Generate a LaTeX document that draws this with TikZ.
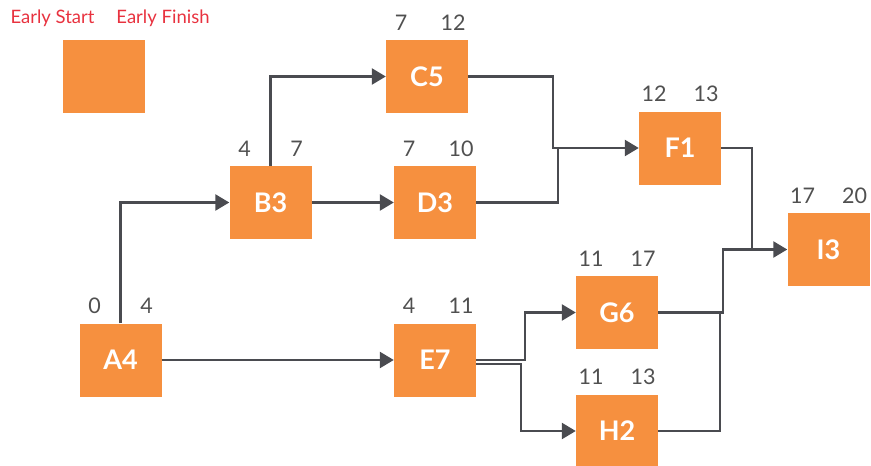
\documentclass[tikz,border=0pt]{standalone}
\usepackage{fontspec}
\setmainfont{Lato}
\usetikzlibrary{arrows.meta,calc}
\definecolor{boxorange}{HTML}{F6903F}
\definecolor{linegray}{HTML}{4A4B50}
\definecolor{numgray}{HTML}{505050}
\definecolor{legendred}{HTML}{E8323F}
\tikzset{
  taskbox/.style={fill=boxorange,draw=none,minimum width=82pt,minimum height=73pt,inner sep=0pt,
    text=white,font=\fontsize{27}{30}\selectfont\bfseries},
  numlabel/.style={text=numgray,inner sep=0pt,font=\fontsize{21.5}{24}\selectfont},
  legendlabel/.style={text=legendred,inner sep=0pt,font=\fontsize{18.5}{21}\selectfont},
  conn/.style={draw=linegray,line width=2.5pt},
  arr/.style={conn,-{Triangle[length=14pt,width=16pt]}}
}
\newcommand\tasknode[6]{%
  \node[taskbox] (#1) at (#2,#3) {#4};
  \node[numlabel] (#1es) at ($(#1.center)+(-26,-54)$) {#5};
  \node[numlabel] (#1ef) at ($(#1.center)+(26,-54)$) {#6};
}
\begin{document}
\begin{tikzpicture}[x=1pt,y=-1pt]
\useasboundingbox (0,0) rectangle (871,466);
% legend
\node[taskbox] (legend) at (104,76.5) {};
\node[legendlabel] (lgs) at (52.5,18) {Early Start};
\node[legendlabel] (lgf) at (163,18) {Early Finish};
% tasks
\tasknode{A}{120.5}{360}{A4}{0}{4}
\tasknode{B}{270.5}{202.5}{B3}{4}{7}
\tasknode{C}{427}{76.5}{C5}{7}{12}
\tasknode{D}{435}{202.5}{D3}{7}{10}
\tasknode{E}{435}{360}{E7}{4}{11}
\tasknode{F}{680}{148}{F1}{12}{13}
\tasknode{G}{617}{312.5}{G6}{11}{17}
\tasknode{H}{617}{431}{H2}{11}{13}
\tasknode{I}{828.5}{249.5}{I3}{17}{20}
% junction coordinates
\coordinate (jCF) at (553,148);
\coordinate (jDF) at (558,148);
\coordinate (jFI) at (752,249.5);
\coordinate (jGI) at (723,249.5);
\coordinate (jHG) at (720,312.5);
\coordinate (jEG) at (525,312.5);
\coordinate (jEH) at (521,431);
% connectors
\draw[arr] (A.north) |- (B.west);
\draw[arr] (B.north) |- (C.west);
\draw[arr] (B.east) -- (D.west);
\draw[arr] (A.east) -- (E.west);
\draw[arr] (C.east) -| (jCF) -- (F.west);
\draw[conn] (D.east) -| (jDF);
\draw[conn] (F.east) -| (jFI);
\draw[arr] (G.east) -| (jGI) -- (I.west);
\draw[conn] (H.east) -| (jHG);
\draw[arr] (E.east) -| (jEG) -- (G.west);
\draw[arr] ([yshift=-4pt]E.east) -| (jEH) -- (H.west);
\end{tikzpicture}
\end{document}
